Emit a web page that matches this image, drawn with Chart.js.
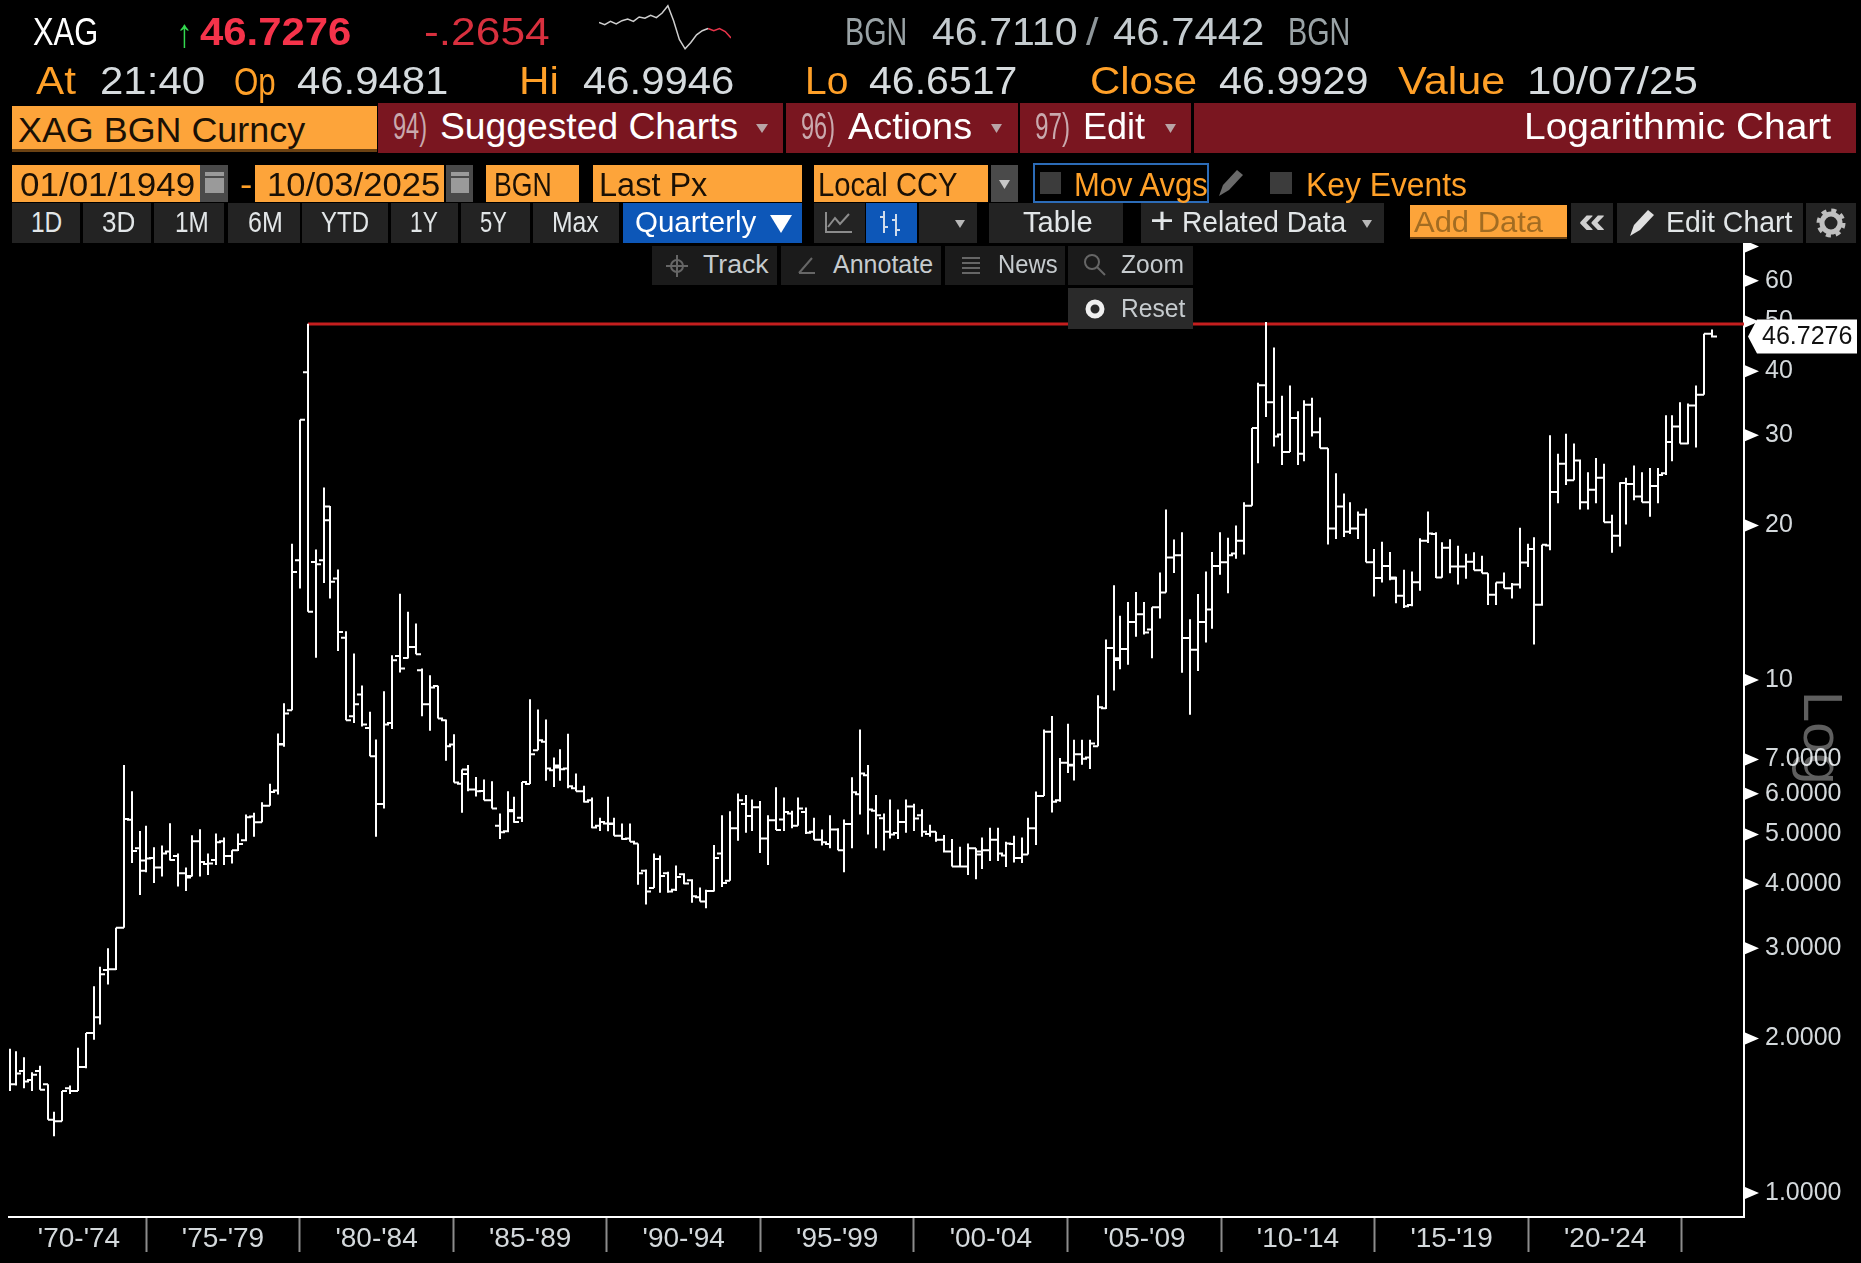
<!DOCTYPE html>
<html>
<head>
<meta charset="utf-8">
<title>XAG BGN Curncy</title>
<script src="https://cdn.jsdelivr.net/npm/chart.js@4"></script>
<style>
  html, body { margin: 0; background: #000; overflow: hidden; width: 1861px; height: 1263px; }
  canvas { position: absolute; left: 0; top: 0; }
  #sparkWrap { position: absolute; left: 599px; top: 3px; width: 132px; height: 48px; }
</style>
</head>
<body>
<canvas id="chartXag" width="1861" height="1263"></canvas>
<div id="sparkWrap"><canvas id="chartSpark" width="132" height="48"></canvas></div>
<script>
// quarterly bars
const opens = [
  1.68,1.63,1.73,1.66,1.73,1.63,1.39,1.38,1.60,1.58,
  1.76,2.05,2.20,2.72,2.73,3.29,5.34,4.70,4.45,4.50,
  4.31,4.63,4.54,4.20,4.15,4.85,4.38,4.46,4.85,4.54,
  4.66,4.87,5.42,5.28,5.69,6.09,7.50,8.73,17.12,39.82,
  16.99,17.12,21.80,15.77,12.09,8.50,9.37,8.06,7.10,5.73,
  8.25,11.14,11.04,11.60,10.45,8.97,9.74,8.35,7.49,6.28,
  6.56,6.12,6.08,5.83,5.20,5.07,5.58,5.39,6.27,7.30,
  7.58,6.67,6.75,6.72,6.15,6.07,5.83,5.20,5.25,5.25,
  4.97,4.91,4.80,4.25,3.93,4.48,4.20,3.90,4.18,4.07,
  3.77,3.70,3.88,4.59,4.06,5.14,5.73,5.43,5.65,4.91,
  5.33,5.35,5.49,5.20,5.53,5.06,4.88,4.79,5.11,4.66,
  5.24,5.99,6.52,5.56,5.38,5.06,5.03,5.29,5.67,5.45,
  5.01,5.06,4.88,4.63,4.33,4.33,4.70,4.57,4.66,4.88,
  4.55,4.79,4.50,4.57,5.14,5.94,7.93,5.83,6.90,6.81,
  7.17,7.06,7.43,8.81,11.55,10.94,11.50,12.97,13.43,12.54,
  13.86,14.81,17.33,17.50,12.08,11.45,12.97,13.72,16.69,16.97,
  17.64,18.68,21.87,31.00,37.55,34.80,30.10,27.82,32.40,27.60,
  34.40,30.40,28.30,19.73,21.80,19.46,19.73,21.00,16.97,15.80,
  16.69,15.85,14.60,14.00,15.51,18.68,19.25,15.85,18.10,16.64,
  16.64,17.00,16.37,16.15,14.67,15.50,15.10,15.36,16.94,18.00,
  14.02,18.30,23.25,26.40,24.50,26.80,22.20,23.50,24.80,20.30,
  19.10,24.20,24.10,22.80,22.20,23.90,25.30,29.10,31.20,28.90,
  34.30,36.00,47.30
];
const highs = [
  1.91,1.89,1.84,1.72,1.77,1.63,1.44,1.58,1.62,1.92,
  2.05,2.53,2.76,3.00,3.29,6.83,6.07,5.08,5.20,4.72,
  4.76,5.26,4.59,4.31,4.98,5.12,4.59,5.02,4.93,4.66,
  5.02,5.47,5.51,5.78,6.28,7.87,9.01,18.44,32.17,49.50,
  17.96,23.72,21.85,16.42,12.44,11.26,9.76,8.67,7.66,9.51,
  11.17,14.73,13.58,12.89,10.53,10.22,9.75,8.38,7.84,6.69,
  6.83,6.47,6.40,6.35,5.49,6.07,5.92,6.33,9.17,8.76,
  8.38,7.06,7.33,7.86,6.57,6.22,5.90,5.39,5.92,5.39,
  5.25,5.25,4.80,4.27,4.59,4.55,4.23,4.35,4.20,4.09,
  3.94,3.90,4.77,5.45,5.55,6.01,5.97,5.85,5.81,5.45,
  6.18,5.90,5.56,5.90,5.64,5.39,5.11,5.45,5.14,5.35,
  6.46,8.01,6.83,5.97,5.49,5.85,5.59,5.85,5.74,5.60,
  5.22,5.06,4.99,4.90,4.73,4.80,4.70,4.93,5.15,5.15,
  4.84,4.97,4.93,5.39,6.06,8.01,8.51,7.05,8.22,7.65,
  7.65,7.65,9.34,12.00,15.30,13.35,14.20,14.85,14.20,13.86,
  16.20,21.50,18.78,19.40,13.13,14.72,16.28,17.77,19.40,18.94,
  20.00,22.20,31.00,37.96,49.88,44.50,35.80,37.50,33.40,35.10,
  35.50,32.50,28.30,25.30,23.10,22.20,21.30,21.60,18.00,18.60,
  17.77,15.90,16.40,16.28,18.90,21.30,19.40,18.55,18.80,18.26,
  17.62,17.75,17.46,16.15,15.50,16.20,15.46,19.80,18.44,18.97,
  18.36,30.00,27.60,30.20,28.90,26.90,25.40,27.10,26.40,21.00,
  24.30,24.80,26.20,25.40,25.90,25.90,32.80,32.80,34.80,34.60,
  37.50,47.30,48.20
];
const lows = [
  1.58,1.62,1.60,1.58,1.59,1.39,1.29,1.38,1.56,1.58,
  1.75,1.99,2.13,2.55,2.72,3.29,4.40,3.81,4.22,4.02,
  4.14,4.45,3.96,3.88,4.14,4.14,4.17,4.36,4.36,4.39,
  4.64,4.85,4.95,5.28,5.69,5.98,7.41,8.73,15.08,13.58,
  11.05,15.46,14.42,11.39,8.35,8.25,8.12,7.10,4.95,5.62,
  8.03,10.34,11.01,11.22,8.50,7.96,8.41,6.96,6.31,5.51,
  6.07,5.93,5.83,5.62,4.90,5.05,5.27,5.29,6.27,7.30,
  6.36,6.19,6.36,6.15,6.07,5.77,5.14,5.08,5.07,4.97,
  4.88,4.84,3.99,3.65,3.93,3.85,3.85,3.88,4.00,3.68,
  3.70,3.59,3.87,3.95,4.06,4.86,5.04,5.08,4.60,4.36,
  5.10,5.08,5.14,5.20,5.01,4.88,4.76,4.70,4.66,4.22,
  4.70,5.47,5.00,4.70,4.65,4.91,4.90,5.04,5.08,4.95,
  4.95,4.84,4.61,4.33,4.32,4.17,4.09,4.28,4.44,4.44,
  4.32,4.41,4.40,4.57,4.77,5.94,5.52,5.79,6.59,6.37,
  6.84,6.71,7.43,8.78,9.54,10.50,10.71,12.14,12.27,11.03,
  13.18,14.81,16.16,10.33,8.56,10.41,11.84,12.59,16.04,14.76,
  17.24,17.56,21.87,26.46,32.56,28.51,26.25,27.82,26.25,26.70,
  29.82,28.30,18.37,18.84,19.00,19.25,18.84,16.97,14.55,15.50,
  15.64,14.12,13.82,13.92,14.93,18.50,15.80,15.82,16.15,15.35,
  15.75,16.37,16.15,14.00,14.00,15.10,14.42,15.08,16.60,11.73,
  13.95,17.90,22.10,24.00,24.50,21.50,21.50,22.10,20.30,17.70,
  18.20,20.10,22.40,22.20,20.80,22.10,25.10,26.70,28.90,28.80,
  28.40,36.00,46.50
];
const closes = [
  1.63,1.71,1.65,1.70,1.59,1.39,1.38,1.58,1.58,1.76,
  2.05,2.20,2.67,2.73,3.29,5.36,4.64,4.25,4.49,4.31,
  4.59,4.46,4.20,4.12,4.85,4.42,4.39,4.83,4.54,4.66,
  4.79,5.40,5.28,5.69,6.05,7.49,8.60,16.24,32.17,13.58,
  16.81,20.48,15.54,12.41,8.35,8.97,8.19,7.10,5.73,8.19,
  10.93,10.53,11.60,11.22,8.97,9.67,8.41,7.43,6.31,6.69,
  6.12,6.07,5.83,5.62,5.05,5.55,5.29,6.33,7.17,7.63,
  6.72,6.81,6.70,6.21,6.07,5.79,5.16,5.29,5.24,4.97,
  4.90,4.84,4.20,3.87,4.48,4.15,3.87,4.13,4.01,3.79,
  3.70,3.88,4.50,4.02,5.14,5.83,5.43,5.65,4.91,5.33,
  5.10,5.53,5.20,5.62,5.04,4.88,4.83,5.11,4.66,5.24,
  6.04,6.57,5.59,5.45,5.06,5.00,5.29,5.67,5.37,5.06,
  5.06,4.88,4.63,4.33,4.33,4.70,4.63,4.66,4.88,4.59,
  4.80,4.50,4.57,5.14,5.94,7.93,5.79,6.90,6.84,7.17,
  7.02,7.52,8.85,11.55,11.03,11.50,12.97,13.43,12.38,13.86,
  14.81,17.33,17.50,12.08,11.45,12.97,13.72,16.69,16.97,17.50,
  18.68,21.87,31.00,37.55,34.80,29.82,27.82,32.40,27.60,34.40,
  30.40,28.30,19.73,21.80,19.46,19.73,21.00,16.97,15.80,16.69,
  15.75,14.60,13.92,15.51,18.68,19.30,15.85,18.10,16.64,16.64,
  17.00,16.37,16.15,14.67,15.50,15.10,15.36,16.94,18.00,14.02,
  18.36,23.25,26.40,24.50,26.80,22.20,23.50,24.80,20.30,19.10,
  24.20,24.10,22.80,22.20,23.90,25.10,29.10,31.20,28.90,34.30,
  36.00,47.30,46.73
];

const yTicks = [1, 2, 3, 4, 5, 6, 7, 10, 20, 30, 40, 50, 60, 70];
const periodLabels = ["'70-'74", "'75-'79", "'80-'84", "'85-'89", "'90-'94", "'95-'99", "'00-'04", "'05-'09", "'10-'14", "'15-'19", "'20-'24"];
const periodEdges = [17.74, 37.77, 57.8, 77.83, 97.86, 117.89, 137.92, 157.95, 177.98, 198.01, 218.04];
const periodMids = [9, 27.78, 47.81, 67.84, 87.87, 107.9, 127.93, 147.96, 167.99, 188.02, 208.05];
const peakBar = 39;
const peakPrice = 49.45;
const lastPrice = '46.7276';

// intraday sparkline in the header
const sparkGrey = [47.21,47.11,47.26,47.14,47.29,47.36,47.26,47.46,47.40,47.54,47.43,47.64,47.97,47.29,46.43,46.00,46.29,46.64,46.83,46.93,null,null,null,null];
const sparkRed = [null,null,null,null,null,null,null,null,null,null,null,null,null,null,null,null,null,null,null,46.93,46.83,46.93,46.79,46.50];

// the x scale runs in bar numbers, one bar is 7.667 px wide
const BAR_PX = 7.667;
const X_MIN = -1 / BAR_PX;
const X_MAX = 1734 / BAR_PX;
const Y_MIN = 0.898;
const Y_MAX = 71.1;

// the terminal draws the stems on even pixels, so they stay 2 px sharp
function barX(i) {
  return Math.max(0, Math.floor((i * 7.668 - 0.1) / 2) * 2) / BAR_PX;
}

// one line with gaps: open tick, stem, close tick for every bar
function buildBarPath() {
  const path = [];
  const tick = 5 / BAR_PX;
  opens.forEach((open, i) => {
    const x = barX(i);
    path.push({ x: x - tick, y: open }, { x: x, y: open }, { x: x, y: null });
    path.push({ x: x, y: highs[i] }, { x: x, y: lows[i] }, { x: x, y: null });
    path.push({ x: x, y: closes[i] }, { x: x + tick, y: closes[i] }, { x: x + tick, y: null });
  });
  return path;
}

const axisDecor = {
  id: 'axisDecor',
  afterDraw(chart) {
    const ctx = chart.ctx;
    const y = chart.scales.y;
    const axisX = chart.chartArea.right;
    ctx.save();
    ctx.fillStyle = '#fff';
    y.ticks.forEach(t => {
      const py = y.getPixelForValue(t.value);
      ctx.beginPath();
      ctx.moveTo(axisX + 1, py - 6);
      ctx.lineTo(axisX + 15, py);
      ctx.lineTo(axisX + 1, py + 6);
      ctx.closePath();
      ctx.fill();
    });
    // last price tag
    const py = y.getPixelForValue(parseFloat(lastPrice));
    ctx.beginPath();
    ctx.moveTo(axisX + 4, py);
    ctx.lineTo(axisX + 13, py - 17);
    ctx.lineTo(axisX + 113, py - 17);
    ctx.lineTo(axisX + 113, py + 17);
    ctx.lineTo(axisX + 13, py + 17);
    ctx.closePath();
    ctx.fill();
    ctx.fillStyle = '#111';
    ctx.font = '25px "Liberation Sans"';
    ctx.textBaseline = 'middle';
    ctx.fillText(lastPrice, axisX + 18, py + 1, 92);
    ctx.restore();
  }
};

new Chart(document.getElementById('chartXag'), {
  type: 'line',
  data: {
    datasets: [
      { label: 'XAG BGN Curncy', data: buildBarPath(), borderColor: '#fff', borderWidth: 2, pointRadius: 0, tension: 0, spanGaps: false, borderCapStyle: 'butt' },
      { label: 'Peak', data: [{ x: barX(peakBar), y: peakPrice }, { x: X_MAX, y: peakPrice }], borderColor: '#c41e1e', borderWidth: 3, pointRadius: 0 }
    ]
  },
  options: {
    responsive: false,
    animation: false,
    layout: { padding: { left: 9, top: 243, right: 0, bottom: 0 } },
    plugins: { legend: { display: false }, tooltip: { enabled: false } },
    scales: {
      x: {
        type: 'linear',
        min: X_MIN,
        max: X_MAX,
        afterBuildTicks(s) {
          s.ticks = periodEdges.concat(periodMids).sort((a, b) => a - b).map(v => ({ value: v }));
        },
        afterFit(s) { s.height = 46; },
        border: { color: '#fff', width: 2 },
        grid: {
          drawOnChartArea: false,
          drawTicks: true,
          tickLength: 35,
          tickWidth: 2,
          tickColor: c => (periodEdges.includes(c.tick && c.tick.value) ? '#8c8c8c' : 'rgba(0,0,0,0)')
        },
        ticks: {
          autoSkip: false,
          maxRotation: 0,
          padding: -30,
          color: '#d4d9dc',
          font: { family: 'Liberation Sans', size: 28 },
          callback(value) {
            const i = periodMids.indexOf(value);
            return i >= 0 ? periodLabels[i] : '';
          }
        }
      },
      y: {
        type: 'logarithmic',
        position: 'right',
        min: Y_MIN,
        max: Y_MAX,
        afterBuildTicks(s) { s.ticks = yTicks.map(v => ({ value: v })); },
        afterFit(s) { s.width = 117; },
        border: { color: '#fff', width: 2 },
        grid: { display: false },
        ticks: {
          autoSkip: false,
          padding: 13,
          color: '#d4d9dc',
          font: { family: 'Liberation Sans', size: 25 },
          callback(value) {
            if (value === 70) return '';
            return value < 10 ? value.toFixed(4) : String(value);
          }
        }
      }
    }
  },
  plugins: [axisDecor]
});

new Chart(document.getElementById('chartSpark'), {
  type: 'line',
  data: {
    labels: sparkGrey.map((_, i) => i),
    datasets: [
      { data: sparkGrey, borderColor: '#cfcfcf', borderWidth: 1.5, pointRadius: 0, tension: 0 },
      { data: sparkRed, borderColor: '#e8344a', borderWidth: 1.5, pointRadius: 0, tension: 0 }
    ]
  },
  options: {
    responsive: false,
    animation: false,
    plugins: { legend: { display: false }, tooltip: { enabled: false } },
    scales: { x: { display: false }, y: { display: false, min: 45.9, max: 48.1 } }
  }
});

// ---- terminal chrome around the chart ----
const ORANGE = '#fda43a';
const LABEL = '#ffa028';
const MAROON = '#7a1620';
const BTN = '#232323';
const TEXT = '#d6dbde';

function box(x0, y0, x1, y1, bg, extra) {
  const d = document.createElement('div');
  d.style.cssText = `position:absolute;left:${x0}px;top:${y0}px;width:${x1 - x0}px;height:${y1 - y0}px;background:${bg};box-sizing:border-box;${extra || ''}`;
  document.body.append(d);
  return d;
}

// text stretched to the width it has in the picture
function label(text, x0, x1, yMid, size, color, weight) {
  const s = document.createElement('span');
  s.textContent = text;
  s.style.cssText = `position:absolute;left:${x0}px;top:${yMid}px;font:${weight || 400} ${size}px/1 "Liberation Sans";color:${color};white-space:nowrap;transform-origin:0 50%;`;
  document.body.append(s);
  s.style.transform = `translateY(-50%) scaleX(${(x1 - x0) / s.offsetWidth})`;
}

function tri(x0, x1, y0, y1, color) {
  box(x0, y0, x1, y1, color, 'clip-path:polygon(0 0,100% 0,50% 100%);');
}

function icon(x0, y0, w, h, inner) {
  const d = document.createElement('div');
  d.style.cssText = `position:absolute;left:${x0}px;top:${y0}px;width:${w}px;height:${h}px;`;
  d.innerHTML = `<svg width="${w}" height="${h}" viewBox="0 0 ${w} ${h}">${inner}</svg>`;
  document.body.append(d);
}

const PENCIL = 'M2 28 L6 17 L20 2 L26 7 L12 22 Z';

// "Log" sits behind the tick labels in the reference, keep it faint
const logText = document.createElement('span');
logText.textContent = 'Log';
logText.style.cssText = 'position:absolute;left:1851px;top:691px;font:56px/1 "Liberation Sans";color:#5f5f5f;transform-origin:0 0;transform:rotate(90deg);mix-blend-mode:screen;';
document.body.append(logText);

// quote rows
label('XAG', 33, 98, 32, 38, '#fff');
label('↑', 176, 193, 33, 40, '#33d94f', 700);
label('46.7276', 200, 351, 32, 38, '#f5334a', 700);
label('-.2654', 424, 550, 32, 38, '#d8303e');
label('BGN', 845, 907, 32, 38, '#9aa3a6');
label('46.7110', 932, 1078, 32, 38, '#c4cbcf');
label('/', 1086, 1099, 32, 38, '#8e969a');
label('46.7442', 1113, 1264, 32, 38, '#c4cbcf');
label('BGN', 1288, 1350, 32, 38, '#9aa3a6');

label('At', 36, 76, 81, 38, LABEL);
label('21:40', 100, 205, 81, 38, TEXT);
label('Op', 234, 276, 82, 38, LABEL);
label('46.9481', 297, 448, 81, 38, TEXT);
label('Hi', 519, 559, 81, 38, LABEL);
label('46.9946', 583, 734, 81, 38, TEXT);
label('Lo', 805, 848, 81, 38, LABEL);
label('46.6517', 869, 1017, 81, 38, TEXT);
label('Close', 1090, 1197, 81, 38, LABEL);
label('46.9929', 1219, 1368, 81, 38, TEXT);
label('Value', 1398, 1505, 81, 38, LABEL);
label('10/07/25', 1527, 1698, 81, 38, TEXT);

// maroon bar
box(12, 106, 377, 152, ORANGE, 'border-bottom:3px solid #6b4213;');
label('XAG BGN Curncy', 18, 305, 129, 35, '#1a1005');
box(378, 103, 783, 153, MAROON);
label('94)', 393, 427, 127, 36, '#c9a9ad');
label('Suggested Charts', 440, 738, 127, 36, '#fff');
tri(756, 768, 124, 133, '#b9a4a6');
box(786, 103, 1018, 153, MAROON);
label('96)', 801, 835, 127, 36, '#c9a9ad');
label('Actions', 848, 972, 127, 36, '#fff');
tri(991, 1002, 124, 133, '#b9a4a6');
box(1020, 103, 1191, 153, MAROON);
label('97)', 1035, 1070, 127, 36, '#c9a9ad');
label('Edit', 1083, 1145, 127, 36, '#fff');
tri(1165, 1176, 124, 133, '#b9a4a6');
box(1194, 103, 1856, 153, MAROON);
label('Logarithmic Chart', 1524, 1831, 127, 36, '#fff');

// date and source row
box(12, 165, 200, 202, ORANGE);
label('01/01/1949', 20, 195, 184, 34, '#1a1005');
box(200, 165, 228, 202, '#4a4a4a');
box(205, 172, 224, 193, '#9a9a9a');
box(205, 176, 224, 178, '#4a4a4a');
label('-', 240, 252, 184, 34, LABEL);
box(255, 165, 444, 202, ORANGE);
label('10/03/2025', 267, 440, 184, 34, '#1a1005');
box(446, 165, 473, 202, '#4a4a4a');
box(451, 172, 469, 193, '#9a9a9a');
box(451, 176, 469, 178, '#4a4a4a');
box(486, 165, 579, 202, ORANGE);
label('BGN', 494, 552, 184, 34, '#1a1005');
box(593, 165, 802, 202, ORANGE);
label('Last Px', 599, 707, 184, 34, '#1a1005');
box(814, 165, 988, 202, ORANGE);
label('Local CCY', 818, 958, 184, 34, '#1a1005');
box(991, 165, 1018, 202, '#4a4a4a');
tri(999, 1010, 180, 189, '#c8c8c8');
box(1033, 163, 1209, 203, 'transparent', 'border:2px solid #2c6cb8;');
box(1040, 172, 1061, 194, '#3c3c3c');
label('Mov Avgs', 1074, 1208, 184, 34, LABEL);
icon(1217, 168, 30, 30, `<path d="${PENCIL}" fill="#6a6a6a"/>`);
box(1270, 172, 1292, 194, '#3c3c3c');
label('Key Events', 1306, 1467, 184, 34, LABEL);

// range buttons
[['1D', 12, 80, 31, 62], ['3D', 83, 151, 102, 135], ['1M', 154, 224, 175, 209], ['6M', 228, 300, 248, 283],
 ['YTD', 302, 388, 321, 369], ['1Y', 391, 458, 410, 438], ['5Y', 461, 530, 480, 507], ['Max', 533, 619, 552, 599]].forEach(b => {
  box(b[1], 203, b[2], 243, BTN);
  label(b[0], b[3], b[4], 222, 30, '#e2e6e8');
});
box(623, 203, 802, 243, '#0d57b8');
label('Quarterly', 635, 756, 222, 30, '#fff');
tri(770, 792, 215, 233, '#fff');
box(814, 203, 865, 243, BTN);
icon(824, 210, 30, 26, '<path d="M2 2 V22 H28" stroke="#8c8c8c" stroke-width="2" fill="none"/><path d="M4 17 L11 8 L16 14 L25 4" stroke="#8c8c8c" stroke-width="2" fill="none"/>');
box(866, 203, 917, 243, '#0d57b8');
icon(876, 208, 30, 30, '<path d="M8 3 V25 M4 9 H8 M8 19 H12 M20 6 V28 M16 12 H20 M20 22 H24" stroke="#d0dcec" stroke-width="2" fill="none"/>');
box(919, 203, 977, 243, BTN);
tri(955, 965, 220, 228, '#b8b8b8');
box(989, 203, 1123, 243, BTN);
label('Table', 1023, 1093, 222, 30, '#e2e6e8');
box(1141, 203, 1384, 243, BTN);
label('+', 1150, 1174, 221, 36, '#e2e6e8');
label('Related Data', 1182, 1346, 222, 30, '#e2e6e8');
tri(1362, 1372, 220, 228, '#b8b8b8');
box(1410, 205, 1567, 239, ORANGE, 'border-bottom:2px solid #6b4213;');
label('Add Data', 1414, 1543, 222, 30, '#a26c22');
box(1571, 203, 1613, 243, BTN);
label('«', 1578, 1606, 221, 36, '#d0d0d0', 700);
box(1617, 203, 1803, 243, BTN);
icon(1628, 208, 30, 30, `<path d="${PENCIL}" fill="#e0e0e0"/>`);
label('Edit Chart', 1666, 1792, 222, 30, '#e2e6e8');
box(1806, 203, 1856, 243, BTN);
icon(1816, 208, 30, 30, '<circle cx="15" cy="15" r="9" fill="none" stroke="#bfbfbf" stroke-width="5"/><circle cx="15" cy="15" r="12.5" fill="none" stroke="#bfbfbf" stroke-width="4" stroke-dasharray="5 4.8"/>');

// floating tools over the plot
box(652, 246, 777, 285, '#1b1b1b');
icon(665, 254, 24, 24, '<circle cx="12" cy="12" r="6" fill="none" stroke="#666" stroke-width="2"/><path d="M12 1 V23 M1 12 H23" stroke="#666" stroke-width="2"/>');
label('Track', 703, 769, 264, 25, '#c6cbce');
box(781, 246, 941, 285, '#1b1b1b');
icon(797, 255, 20, 20, '<path d="M2 18 L15 3 M2 18 H18" stroke="#666" stroke-width="2" fill="none"/>');
label('Annotate', 833, 933, 264, 25, '#c6cbce');
box(945, 246, 1065, 285, '#1b1b1b');
icon(961, 255, 20, 22, '<path d="M1 3 H19 M1 8 H19 M1 13 H19 M1 18 H19" stroke="#666" stroke-width="2"/>');
label('News', 998, 1058, 264, 25, '#c6cbce');
box(1068, 246, 1193, 285, '#1b1b1b');
icon(1083, 253, 24, 24, '<circle cx="9" cy="9" r="7" fill="none" stroke="#666" stroke-width="2"/><path d="M14 14 L22 22" stroke="#666" stroke-width="2"/>');
label('Zoom', 1121, 1184, 264, 25, '#c6cbce');
box(1068, 288, 1193, 329, '#2a2a2a');
icon(1083, 297, 24, 24, '<circle cx="12" cy="12" r="7" fill="none" stroke="#f0f0f0" stroke-width="5"/>');
label('Reset', 1121, 1185, 308, 25, '#c6cbce');
</script>
</body>
</html>
